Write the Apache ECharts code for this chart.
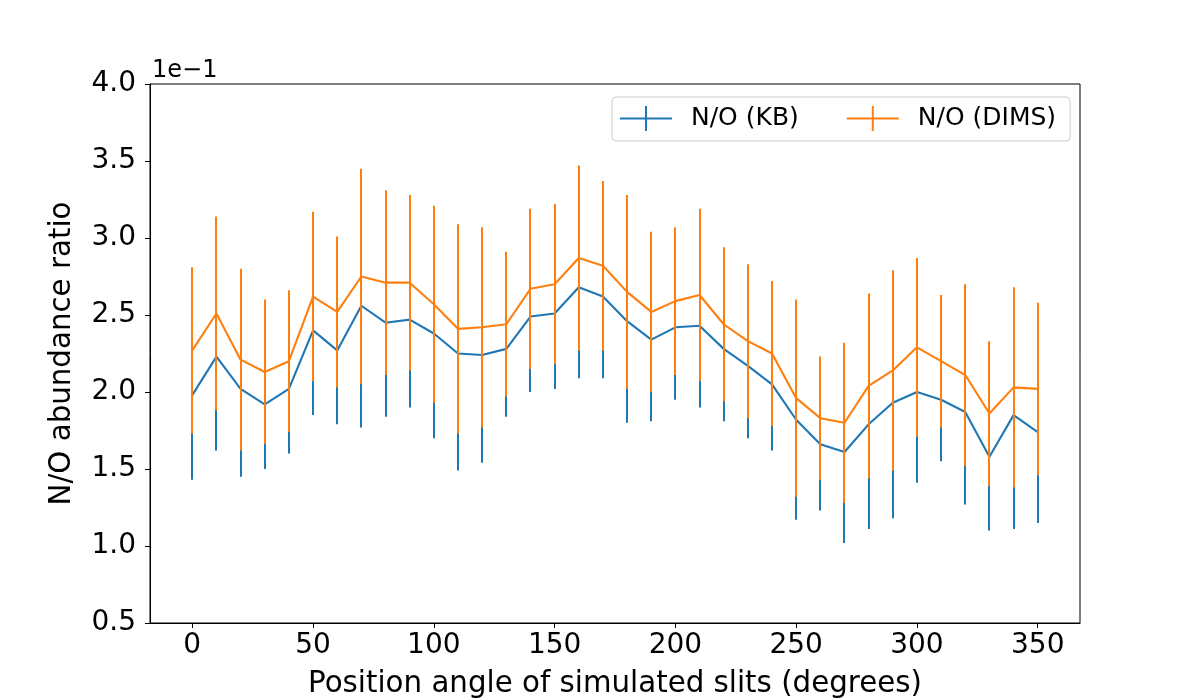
<!DOCTYPE html>
<html>
<head>
<meta charset="utf-8">
<script src="https://cdn.jsdelivr.net/npm/echarts@6/dist/echarts.min.js"></script>
<style>
  html, body { margin: 0; padding: 0; background: #fff; }
  #main { width: 1200px; height: 700px; }
</style>
</head>
<body>
<div id="main"></div>
<script>
// position angle of the simulated slits (degrees)
var angles = [0, 10, 20, 30, 40, 50, 60, 70, 80, 90, 100, 110, 120, 130, 140, 150, 160, 170,
    180, 190, 200, 210, 220, 230, 240, 250, 260, 270, 280, 290, 300, 310, 320, 330, 340, 350];

// N/O in units of 1e-1
var kbRatio = [1.98, 2.23, 2.02, 1.92, 2.02, 2.40, 2.27, 2.56, 2.45, 2.47, 2.38, 2.25, 2.24, 2.28, 2.49, 2.51, 2.68, 2.62,
    2.46, 2.34, 2.42, 2.43, 2.28, 2.17, 2.05, 1.82, 1.66, 1.61, 1.79, 1.93, 2.00, 1.95, 1.87, 1.58, 1.85, 1.74];
var kbErr = [0.55, 0.61, 0.57, 0.42, 0.42, 0.55, 0.48, 0.79, 0.61, 0.57, 0.68, 0.76, 0.70, 0.44, 0.49, 0.49, 0.59, 0.53,
    0.66, 0.53, 0.47, 0.53, 0.47, 0.47, 0.43, 0.65, 0.43, 0.59, 0.68, 0.75, 0.59, 0.40, 0.60, 0.48, 0.74, 0.59];

var dimsRatio = [2.27, 2.51, 2.21, 2.13, 2.20, 2.62, 2.52, 2.75, 2.71, 2.71, 2.57, 2.41, 2.42, 2.44, 2.67, 2.70, 2.87, 2.82,
    2.65, 2.52, 2.59, 2.63, 2.44, 2.33, 2.25, 1.96, 1.83, 1.80, 2.04, 2.14, 2.29, 2.20, 2.11, 1.86, 2.03, 2.02];
var dimsErr = [0.54, 0.63, 0.59, 0.47, 0.46, 0.55, 0.49, 0.70, 0.60, 0.57, 0.64, 0.68, 0.65, 0.47, 0.52, 0.52, 0.60, 0.55,
    0.63, 0.52, 0.48, 0.56, 0.50, 0.50, 0.47, 0.64, 0.40, 0.52, 0.60, 0.65, 0.58, 0.43, 0.59, 0.47, 0.65, 0.56];

var xTicks = [0, 50, 100, 150, 200, 250, 300, 350];

var blue = '#1f77b4';
var orange = '#ff7f0e';
var font = 'DejaVu Sans';

function pairs(vals) {
    return angles.map(function (a, i) { return [a, vals[i]]; });
}
function errRows(vals, errs) {
    return angles.map(function (a, i) { return [a, vals[i] - errs[i], vals[i] + errs[i]]; });
}

// vertical error bar, snapped to whole pixels so the orange bar fully hides the blue one underneath
function errorBar(color) {
    return function (params, api) {
        var lo = api.coord([api.value(0), api.value(1)]);
        var hi = api.coord([api.value(0), api.value(2)]);
        var x = Math.round(lo[0]);
        return {
            type: 'line',
            shape: { x1: x, y1: lo[1], x2: x, y2: hi[1] },
            style: { stroke: color, lineWidth: 2 }
        };
    };
}

var chart = echarts.init(document.getElementById('main'));

var option = {
    backgroundColor: '#fff',
    animation: false,
    textStyle: { fontFamily: font },
    grid: {
        left: 150, right: 120, top: 84, bottom: 77,
        outerBoundsMode: 'none',
        show: true, borderColor: '#000', borderWidth: 1
    },
    legend: {
        left: 612, top: 97,
        data: ['N/O (KB)', 'N/O (DIMS)'],
        icon: 'path://M0,11.5 H52 V13.5 H0 Z M25,0 H27 V25 H25 Z',
        itemWidth: 52, itemHeight: 25,
        itemGap: 48,
        padding: [9, 14, 10, 8],
        borderColor: '#cccccc', borderWidth: 1, borderRadius: 4,
        textStyle: { fontFamily: font, fontSize: 25, color: '#000', padding: [0, 0, 0, 14] }
    },
    xAxis: {
        type: 'value',
        min: -17.5, max: 367.5,
        name: 'Position angle of simulated slits (degrees)',
        nameLocation: 'middle', nameGap: 47,
        nameTextStyle: { fontFamily: font, fontSize: 29.3, color: '#000' },
        axisLine: { onZero: false, lineStyle: { color: '#000', width: 1 } },
        axisTick: { customValues: xTicks, length: 5, lineStyle: { color: '#000' } },
        axisLabel: { customValues: xTicks, fontFamily: font, fontSize: 28, color: '#000', margin: 9 },
        splitLine: { show: false }
    },
    yAxis: {
        type: 'value',
        min: 0.5, max: 4.0, interval: 0.5,
        name: 'N/O abundance ratio',
        nameLocation: 'middle', nameGap: 73,
        nameTextStyle: { fontFamily: font, fontSize: 29.3, color: '#000' },
        axisLine: { show: true, onZero: false, lineStyle: { color: '#000', width: 1 } },
        axisTick: { show: true, length: 5, lineStyle: { color: '#000' } },
        axisLabel: {
            fontFamily: font, fontSize: 28, color: '#000', margin: 14,
            formatter: function (v) { return v.toFixed(1); }
        },
        splitLine: { show: false }
    },
    graphic: [{
        type: 'text', left: 152, top: 59,
        style: { text: '1e\u22121', font: '24px "DejaVu Sans"', fill: '#000' }
    }],
    series: [
        {
            name: 'N/O (KB) err', type: 'custom',
            renderItem: errorBar(blue),
            encode: { x: 0, y: [1, 2] },
            data: errRows(kbRatio, kbErr), z: 2
        },
        {
            name: 'N/O (KB)', type: 'line',
            data: pairs(kbRatio),
            symbol: 'none',
            lineStyle: { color: blue, width: 2.1 },
            itemStyle: { color: blue }, z: 3
        },
        {
            name: 'N/O (DIMS) err', type: 'custom',
            renderItem: errorBar(orange),
            encode: { x: 0, y: [1, 2] },
            data: errRows(dimsRatio, dimsErr), z: 4
        },
        {
            name: 'N/O (DIMS)', type: 'line',
            data: pairs(dimsRatio),
            symbol: 'none',
            lineStyle: { color: orange, width: 2.1 },
            itemStyle: { color: orange }, z: 5
        }
    ]
};

chart.setOption(option);
window.onresize = function () { chart.resize(); };
</script>
</body>
</html>
